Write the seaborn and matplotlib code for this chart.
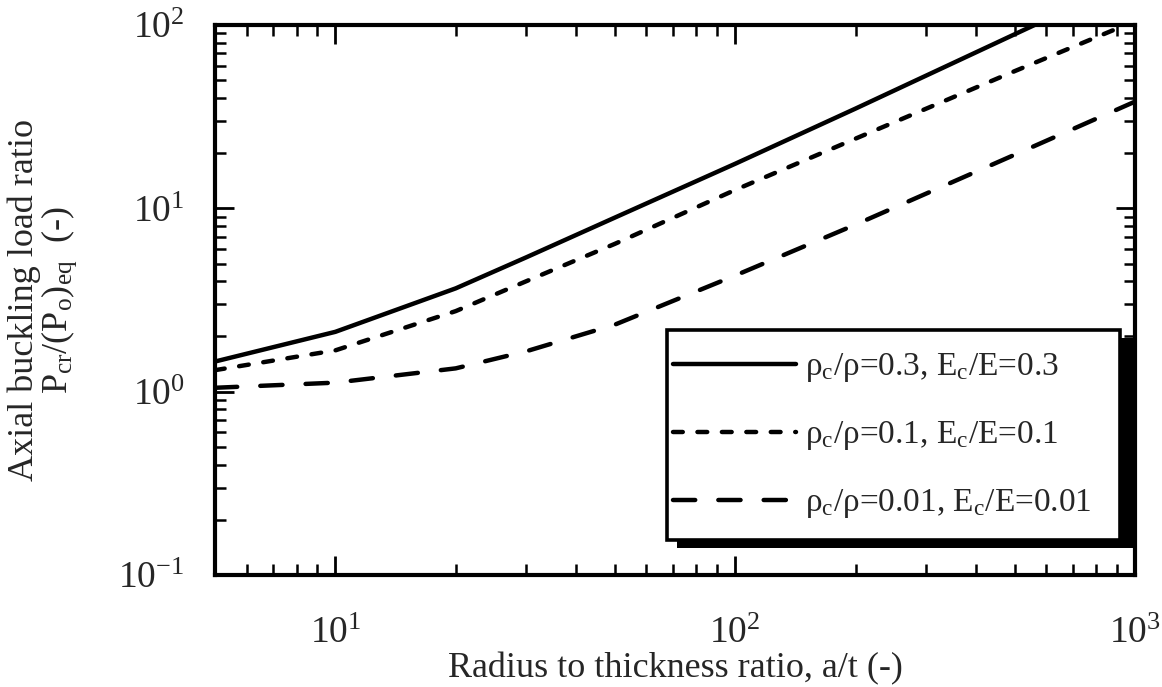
import matplotlib
matplotlib.use("Agg")
import matplotlib.pyplot as plt
from matplotlib.patches import Rectangle
import numpy as np
import pandas as pd
import seaborn as sns
from matplotlib.ticker import LogLocator, NullFormatter

# ---- data ----
a_over_t = [5, 10, 20, 30, 50, 100, 200, 500, 1000]
ratio_03 = [1.46, 2.12, 3.66, 5.4, 8.9, 17.5, 35.0, 89.0, 180.0]
ratio_01 = [1.31, 1.68, 2.75, 4.0, 6.4, 12.6, 24.0, 56.0, 105.0]
ratio_001 = [1.05, 1.12, 1.34, 1.66, 2.32, 4.3, 8.15, 19.6, 38.2]
labels = [r"ρ$_\mathregular{c}$/ρ=0.3, E$_\mathregular{c}$/E=0.3",
          r"ρ$_\mathregular{c}$/ρ=0.1, E$_\mathregular{c}$/E=0.1",
          r"ρ$_\mathregular{c}$/ρ=0.01, E$_\mathregular{c}$/E=0.01"]
x_label = "Radius to thickness ratio, a/t (-)"
y_label = "Axial buckling load ratio\nP$_\\mathregular{cr}$/(P$_\\mathregular{o}$)$_\\mathregular{eq}$  (-)"

sns.set_style("ticks")
plt.rcParams["font.family"] = ["Liberation Serif", "DejaVu Serif"]
plt.rcParams["mathtext.fontset"] = "custom"
plt.rcParams["mathtext.rm"] = "Liberation Serif"
plt.rcParams["mathtext.it"] = "Liberation Serif:italic"
plt.rcParams["mathtext.bf"] = "Liberation Serif:bold"
plt.rcParams["axes.unicode_minus"] = False

W, H = 1162, 687
fig = plt.figure(figsize=(W / 100, H / 100), dpi=100)
AX_L, AX_R, AX_T, AX_B = 215, 1135, 25, 575
ax = fig.add_axes([AX_L / W, 1 - AX_B / H, (AX_R - AX_L) / W, (AX_B - AX_T) / H])

def ax_frac(px, py):
    return (px - AX_L) / (AX_R - AX_L), (AX_B - py) / (AX_B - AX_T)

styles = [dict(linestyle="-"),
          dict(linestyle=(0, (2.2, 3.3)), dash_capstyle="round"),
          dict(linestyle=(0, (5.0, 5.2)), dash_capstyle="round")]
series = [ratio_03, ratio_01, ratio_001]
for vals, lab, st in zip(series, labels, styles):
    df = pd.DataFrame({"x": a_over_t, "y": vals})
    sns.lineplot(data=df, x="x", y="y", ax=ax, color="black", lw=3.2,
                 label=lab, **st)

ax.set_xscale("log")
ax.set_yscale("log")
ax.set_xlim(5, 1000)
ax.set_ylim(0.1, 100)

ax.xaxis.set_major_locator(LogLocator(base=10, numticks=10))
ax.yaxis.set_major_locator(LogLocator(base=10, numticks=10))
ax.xaxis.set_minor_locator(LogLocator(base=10, subs=np.arange(2, 10), numticks=20))
ax.yaxis.set_minor_locator(LogLocator(base=10, subs=np.arange(2, 10), numticks=20))
ax.xaxis.set_minor_formatter(NullFormatter())
ax.yaxis.set_minor_formatter(NullFormatter())

ax.tick_params(which="both", direction="in", top=True, right=True, color="black")
ax.tick_params(which="major", length=14, width=2.0, labelsize=27)
ax.tick_params(which="minor", length=8, width=1.8)
ax.tick_params(axis="y", which="major", pad=22)
ax.tick_params(axis="x", which="major", pad=30)
for sp in ax.spines.values():
    sp.set_linewidth(3.0)
    sp.set_color("black")

ax.set_xlabel(x_label, fontsize=26)
ax.set_ylabel(y_label, fontsize=26, linespacing=0.95)
ax.yaxis.set_label_coords(-0.148, 0.5)
ax.xaxis.set_label_coords(0.5, -0.14)

# legend frame with a solid drop shadow
bx0, by0 = ax_frac(667, 540)
bx1, by1 = ax_frac(1120, 330)
sx0, sy0 = ax_frac(677, 548)
sx1, sy1 = ax_frac(1133, 338)
ax.add_patch(Rectangle((sx0, sy0), sx1 - sx0, sy1 - sy0, transform=ax.transAxes,
                       facecolor="black", edgecolor="black", lw=0, zorder=4))
ax.add_patch(Rectangle((bx0, by0), bx1 - bx0, by1 - by0, transform=ax.transAxes,
                       facecolor="white", edgecolor="black", lw=2.6, zorder=4.1))

lx, ly = ax_frac(673, 436)
leg = ax.legend(loc="center left", bbox_to_anchor=(lx, ly), frameon=False,
                borderaxespad=0, borderpad=0, fontsize=24, handlelength=3.7,
                handletextpad=0.25, labelspacing=1.05)
leg.set_zorder(5)

fig.savefig("out.png", dpi=100, facecolor="white")
